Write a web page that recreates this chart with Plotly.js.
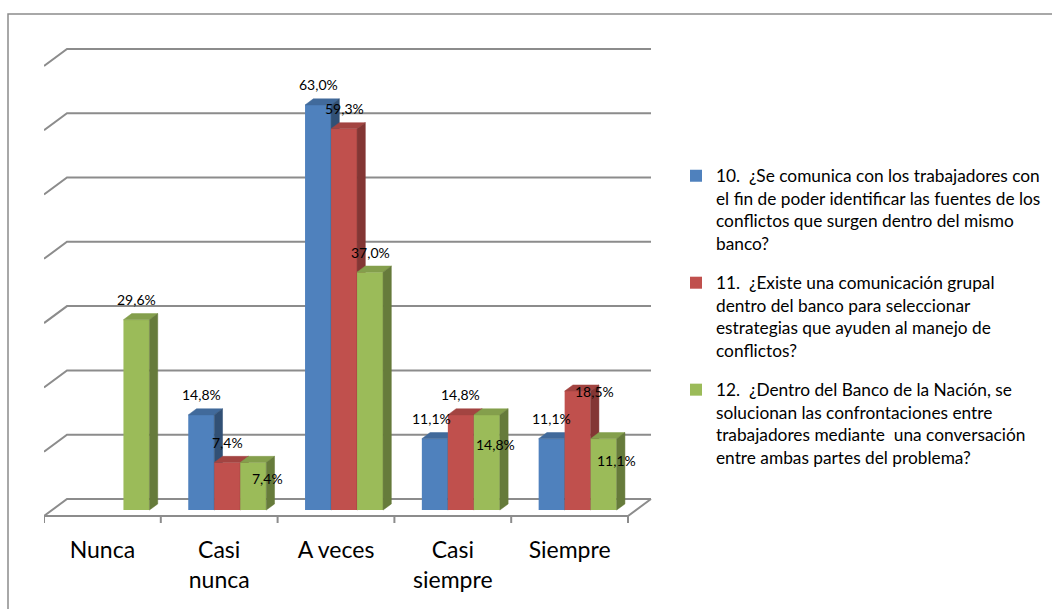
<!DOCTYPE html>
<html>
<head>
<meta charset="utf-8">
<script src="https://cdn.plot.ly/plotly-3.0.1.min.js"></script>
<style>
  html, body { margin: 0; padding: 0; background: #ffffff; }
  #chart { width: 1052px; height: 609px; }
</style>
</head>
<body>
<div id="chart"></div>
<script>
// ---- data -------------------------------------------------------------
const categoryLabels = ['Nunca', 'Casi<br>nunca', 'A veces', 'Casi<br>siempre', 'Siempre'];
const q10Values = [0, 14.8, 63.0, 11.1, 11.1];
const q11Values = [0, 7.4, 59.3, 14.8, 18.5];
const q12Values = [29.6, 7.4, 37.0, 14.8, 11.1];
const seriesNames = [
  '10.\u00a0 ¿Se comunica con los trabajadores con<br>el fin de poder identificar las fuentes de los<br>conflictos que surgen dentro del mismo<br>banco?',
  '11.\u00a0 ¿Existe una comunicación grupal<br>dentro del banco para seleccionar<br>estrategias que ayuden al manejo de<br>conflictos?',
  '12.\u00a0 ¿Dentro del Banco de la Nación, se<br>solucionan las confrontaciones entre<br>trabajadores mediante\u00a0 una conversación<br>entre ambas partes del problema?'
];
const gridValues = [0, 10, 20, 30, 40, 50, 60, 70];

// ---- styling ----------------------------------------------------------
const FONT = 'Lato, "Open Sans", sans-serif';
const frontColors = ['#4F81BD', '#C0504D', '#9BBB59'];
const topColors   = ['#416A9B', '#A34441', '#849F4C'];
const sideColors  = ['#315075', '#833634', '#667B3B'];
const GRID_COLOR = '#8C8C8C';

// label nudges (pixels) for the few labels Excel-style placement moves
const labelNudges = [
  [[0, 0], [0, 0], [0, 0], [-3, 0], [0, 0]],
  [[0, 0], [0, 0], [0, 0], [0, 0], [17, -20]],
  [[0, 0], [14, -36], [0, 0], [9, -50], [13, -42]]
];

// ---- geometry (pixels) ------------------------------------------------
const W = 1052, H = 609;
const PLOT_L = 44, PLOT_R = 656, PLOT_T = 40, PLOT_B = 530;
const FRONT_ZERO_PX = 516;          // floor front edge
const PX_PER_CAT = 116.8;
const PX_PER_PCT = 6.43;
const DEPTH_PX_X = 23, DEPTH_PX_Y = 17;   // oblique depth of floor / walls
const BAR_FRONT = 0.35, BAR_DEPTH = 0.36; // bar position inside the depth
const BAR_PX = 26;

const X_MIN = -0.5;
const X_MAX = X_MIN + (PLOT_R - PLOT_L) / PX_PER_CAT;
const Y_MIN = -(PLOT_B - FRONT_ZERO_PX) / PX_PER_PCT;
const Y_MAX = (FRONT_ZERO_PX - PLOT_T) / PX_PER_PCT;

const dX = f => f * DEPTH_PX_X / PX_PER_CAT;
const dY = f => f * DEPTH_PX_Y / PX_PER_PCT;
const BAR_W = BAR_PX / PX_PER_CAT;
const nCat = categoryLabels.length;
const paperX = px => (px - PLOT_L) / (PLOT_R - PLOT_L);
const paperY = py => (PLOT_B - py) / (PLOT_B - PLOT_T);

// ---- back wall, side wall and floor -----------------------------------
const gx = [], gy = [];
const leftEdge = X_MIN, rightEdge = X_MIN + nCat;
gridValues.forEach(v => {
  gx.push(leftEdge, leftEdge + dX(1), rightEdge + dX(1), null);
  gy.push(v, v + dY(1), v + dY(1), null);
});
gx.push(leftEdge, rightEdge, rightEdge + dX(1), null);
gy.push(0, 0, dY(1), null);
for (let b = 0; b <= nCat; b++) {
  gx.push(leftEdge + b, leftEdge + b, null);
  gy.push(0, -7 / PX_PER_PCT, null);
}

const traces = [{
  type: 'scatter', mode: 'lines', x: gx, y: gy,
  line: { color: GRID_COLOR, width: 2 },
  hoverinfo: 'skip', showlegend: false, xaxis: 'x', yaxis: 'y'
}];

// ---- bars -------------------------------------------------------------
const allSeries = [q10Values, q11Values, q12Values];
const annotations = [];
const baseY = dY(BAR_FRONT);

allSeries.forEach((vals, j) => {
  const ax = 'x' + (j + 2), ay = 'y' + (j + 2);
  const xs = vals.map((v, i) => i + (j - 1) * BAR_W + dX(BAR_FRONT));

  traces.push({
    type: 'bar', x: xs, y: vals, base: baseY, width: BAR_W,
    name: seriesNames[j], legendgroup: 'g' + j,
    marker: { color: frontColors[j], line: { width: 0 } },
    xaxis: ax, yaxis: ay, hoverinfo: 'skip'
  });

  const tx = [], ty = [], sx = [], sy = [];
  const ddx = dX(BAR_DEPTH), ddy = dY(BAR_DEPTH);
  vals.forEach((v, i) => {
    if (v <= 0) return;
    const xl = xs[i] - BAR_W / 2, xr = xs[i] + BAR_W / 2, top = baseY + v;
    tx.push(xl, xr, xr + ddx, xl + ddx, xl, null);
    ty.push(top, top, top + ddy, top + ddy, top, null);
    sx.push(xr, xr + ddx, xr + ddx, xr, xr, null);
    sy.push(baseY, baseY + ddy, top + ddy, top, baseY, null);

    const nudge = labelNudges[j][i];
    annotations.push({
      xref: 'x', yref: 'y', x: xs[i], y: top,
      text: v.toFixed(1).replace('.', ',') + '%',
      showarrow: false, yanchor: 'middle', xanchor: 'center',
      xshift: nudge[0], yshift: 20 + nudge[1],
      font: { family: FONT, size: 14, color: '#000000' }
    });
  });
  traces.push({
    type: 'scatter', mode: 'lines', x: tx, y: ty, fill: 'toself',
    fillcolor: topColors[j], line: { color: topColors[j], width: 0.5 },
    hoverinfo: 'skip', showlegend: false, xaxis: ax, yaxis: ay
  });
  traces.push({
    type: 'scatter', mode: 'lines', x: sx, y: sy, fill: 'toself',
    fillcolor: sideColors[j], line: { color: sideColors[j], width: 0.5 },
    hoverinfo: 'skip', showlegend: false, xaxis: ax, yaxis: ay
  });
});

// ---- axes -------------------------------------------------------------
const hiddenX = { range: [X_MIN, X_MAX], visible: false, fixedrange: true };
const hiddenY = { range: [Y_MIN, Y_MAX], visible: false, fixedrange: true };

const layout = {
  width: W, height: H,
  margin: { l: PLOT_L, r: W - PLOT_R, t: PLOT_T, b: H - PLOT_B, pad: 0, autoexpand: false },
  paper_bgcolor: '#ffffff', plot_bgcolor: 'rgba(0,0,0,0)',
  barmode: 'overlay',
  font: { family: FONT, color: '#000000' },
  xaxis: hiddenX,
  yaxis: hiddenY,
  xaxis2: {
    range: [X_MIN, X_MAX], overlaying: 'x', anchor: 'y2', side: 'bottom',
    tickmode: 'array', tickvals: categoryLabels.map((_, i) => i), ticktext: categoryLabels,
    ticks: '', showline: false, showgrid: false, zeroline: false,
    ticklabelstandoff: 4, automargin: false,
    tickfont: { family: FONT, size: 23, color: '#000000' }, fixedrange: true
  },
  yaxis2: Object.assign({ overlaying: 'y', anchor: 'x2' }, hiddenY),
  xaxis3: Object.assign({ overlaying: 'x', anchor: 'y3' }, hiddenX),
  yaxis3: Object.assign({ overlaying: 'y', anchor: 'x3' }, hiddenY),
  xaxis4: Object.assign({ overlaying: 'x', anchor: 'y4' }, hiddenX),
  yaxis4: Object.assign({ overlaying: 'y', anchor: 'x4' }, hiddenY),
  showlegend: true,
  legend: {
    x: paperX(676), y: paperY(158), xanchor: 'left', yanchor: 'top',
    valign: 'top', traceorder: 'grouped', tracegroupgap: 14,
    bgcolor: 'rgba(0,0,0,0)', borderwidth: 0,
    font: { family: FONT, size: 17.3, color: '#000000' }
  },
  annotations: annotations,
  shapes: [{
    type: 'rect', xref: 'paper', yref: 'paper',
    x0: paperX(8), x1: paperX(W + 10), y0: paperY(H + 10), y1: paperY(14),
    line: { color: '#8C8C8C', width: 1.5 }, fillcolor: 'rgba(0,0,0,0)', layer: 'below'
  }]
};

Plotly.newPlot('chart', traces, layout, { staticPlot: true, displayModeBar: false });
</script>
</body>
</html>
